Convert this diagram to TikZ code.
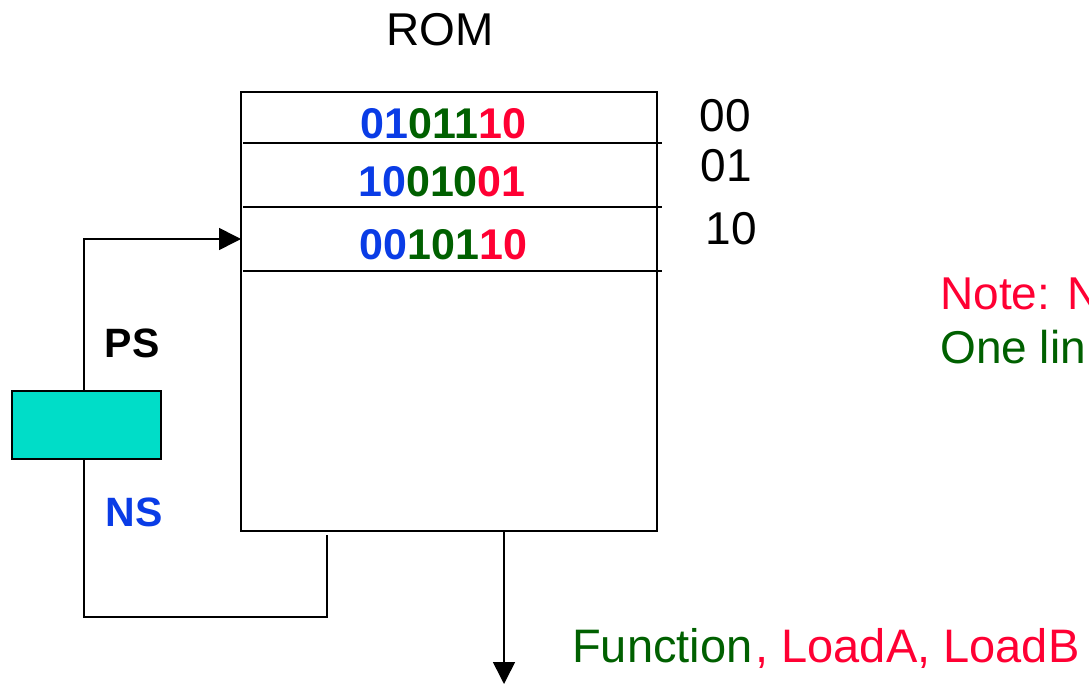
\documentclass[tikz,border=0pt]{standalone}
\usepackage{fontspec}
\setmainfont{Liberation Sans}
\usetikzlibrary{arrows.meta}
\definecolor{rblue}{RGB}{10,60,230}
\definecolor{rgreen}{RGB}{0,96,0}
\definecolor{rred}{RGB}{255,0,51}
\definecolor{rcyan}{RGB}{0,221,200}
\tikzset{
  big/.style={font=\fontsize{46}{50}\selectfont, inner sep=0pt, anchor=base},
  bits/.style={font=\bfseries\fontsize{43}{46}\selectfont, inner sep=0pt, anchor=base},
  lbl/.style={font=\bfseries\fontsize{41}{44}\selectfont, inner sep=0pt, anchor=base},
  wire/.style={line width=1.6pt},
  arr/.style={wire, -{Triangle[length=22pt,width=22pt]}},
}
\begin{document}
\begin{tikzpicture}[x=1pt,y=-1pt]
\useasboundingbox (0,0) rectangle (1089,684);
% ROM
\node[draw, wire, minimum width=416pt, minimum height=439pt, inner sep=0pt] (rom) at (449,311.5) {};
\node[big] (romt) at (440,46) {ROM};
\coordinate (r1a) at (243,143); \coordinate (r1b) at (662,143);
\coordinate (r2a) at (243,207); \coordinate (r2b) at (662,207);
\coordinate (r3a) at (243,271); \coordinate (r3b) at (662,271);
\draw[wire] (r1a) -- (r1b);
\draw[wire] (r2a) -- (r2b);
\draw[wire] (r3a) -- (r3b);
\node[bits] (w1) at (443.5,139) {\textcolor{rblue}{01}\textcolor{rgreen}{011}\textcolor{rred}{10}};
\node[bits] (w2) at (442,197) {\textcolor{rblue}{10}\textcolor{rgreen}{010}\textcolor{rred}{01}};
\node[bits] (w3) at (443.5,260) {\textcolor{rblue}{00}\textcolor{rgreen}{101}\textcolor{rred}{10}};
\node[big] (a0) at (725,132) {00};
\node[big] (a1) at (726.5,182) {01};
\node[big] (a2) at (731,245) {10};
% register
\node[draw, wire, fill=rcyan, minimum width=149pt, minimum height=68pt, inner sep=0pt] (reg) at (86.5,425) {};
\node[lbl] (ps) at (132,357) {PS};
\node[lbl, text=rblue] (ns) at (134,526) {NS};
\coordinate (in) at (241,239);
\coordinate (fb) at (327,535);
\coordinate (out) at (504,684);
\draw[arr] ([xshift=-2.5pt]reg.north) |- (in);
\draw[wire] ([xshift=-2.5pt]reg.south) -- ++(0,157) -| (fb);
\draw[arr] (rom.south -| out) -- (out);
% notes
\node[big, anchor=base west, text=rred] (n1) at (940,310) {Note: N};
\node[big, anchor=base west, text=rgreen] (n2) at (940,363) {One lin};
\node[big, anchor=base west, font=\fontsize{47}{50}\selectfont] (fn) at (572,662) {\textcolor{rgreen}{Function}\kern3pt\textcolor{rred}{, LoadA, LoadB}};
\end{tikzpicture}
\end{document}
